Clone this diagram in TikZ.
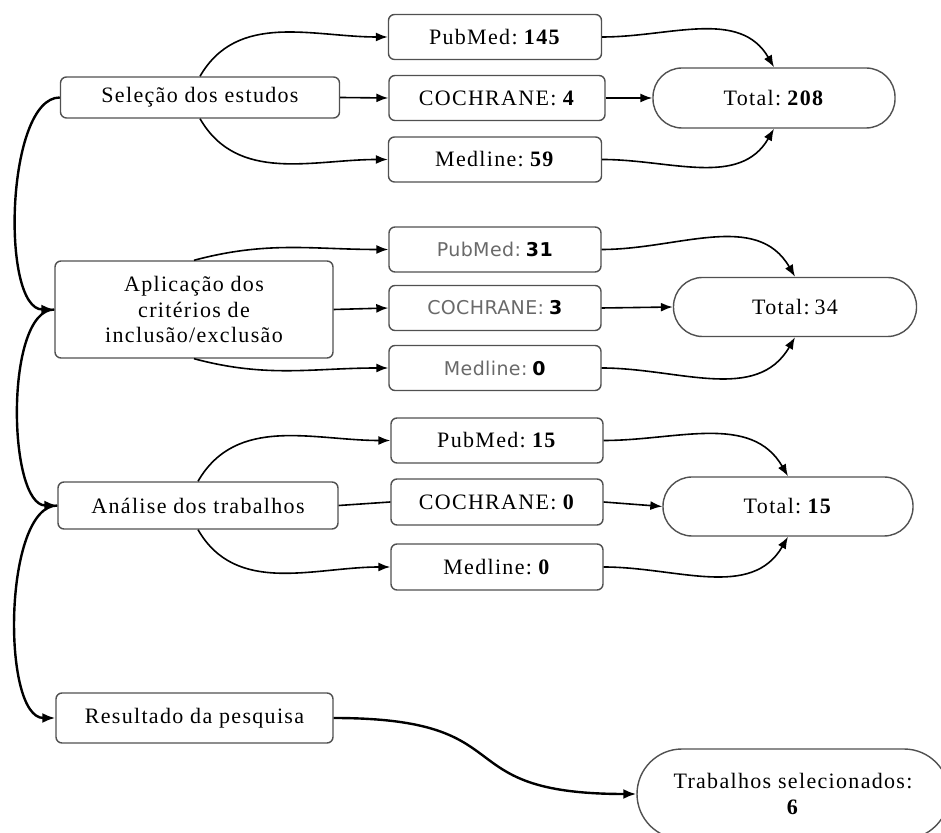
\documentclass[tikz,border=0pt]{standalone}
\usepackage{fontspec}
\setmainfont{Liberation Serif}[LetterSpace=6]
\newfontfamily\grupofont{DejaVu Sans}[LetterSpace=2]
\usepackage{tikz}
\usetikzlibrary{arrows.meta}
\usepackage{xcolor}
\definecolor{boxgrey}{RGB}{80,80,80}
\definecolor{textgrey}{RGB}{105,105,105}
\newcommand{\esp}{\hspace{5pt}}

\begin{document}
\begin{tikzpicture}[x=1pt, y=1pt, font=\fontsize{22}{25.5}\selectfont,
    etapa/.style={draw=boxgrey, line width=1.4pt, rounded corners=6pt,
      inner sep=0pt, align=center},
    base/.style={etapa, minimum width=213pt, minimum height=45pt},
    total/.style={draw=boxgrey, line width=1.4pt, rounded corners=29pt,
      inner sep=0pt, minimum height=59pt, align=center},
    seta/.style={line width=1.6pt, -{Latex[length=12pt,width=9pt]}},
    fluxo/.style={line width=2.4pt, -{Latex[length=13pt,width=10pt]}}]
        \clip (0,0) rectangle (941,832);

        % Seleção dos estudos
        \node[etapa, minimum width=279pt, minimum height=41pt] (sel) at (200,734.5) {Seleção dos estudos};
        \node[base] (pub1) at (495,795) {PubMed:\esp\textbf{145}};
        \node[base, minimum width=216pt] (coc1) at (497,734) {COCHRANE:\esp\textbf{4}};
        \node[base] (med1) at (495,672.5) {Medline:\esp\textbf{59}};
        \node[total, minimum width=242pt, minimum height=60pt] (tot1) at (774,734) {Total:\esp\textbf{208}};

        % Critérios de inclusão/exclusão
        \node[etapa, minimum width=278pt, minimum height=97pt] (apl) at (194,522.5)
          {Aplicação dos\\ critérios de\\ inclusão/exclusão};
        \node[base, minimum width=212pt, font=\fontsize{19}{23}\grupofont\color{textgrey}] (pub2) at (495,582.5)
          {PubMed:\esp\textcolor{black}{\textbf{31}}};
        \node[base, minimum width=212pt, font=\fontsize{19}{23}\grupofont\color{textgrey}] (coc2) at (495,524)
          {COCHRANE:\esp\textcolor{black}{\textbf{3}}};
        \node[base, minimum width=212pt, font=\fontsize{19}{23}\grupofont\color{textgrey}] (med2) at (495,464)
          {Medline:\esp\textcolor{black}{\textbf{0}}};
        \node[total, minimum width=243pt] (tot2) at (795,525) {Total:\esp 34};

        % Análise dos trabalhos
        \node[etapa, minimum width=280pt, minimum height=47pt] (ana) at (198,326.5) {Análise dos trabalhos};
        \node[base, minimum width=212pt] (pub3) at (497,391.5) {PubMed:\esp\textbf{15}};
        \node[base, minimum width=212pt, minimum height=46pt] (coc3) at (497,330) {COCHRANE:\esp\textbf{0}};
        \node[base, minimum width=212pt, minimum height=46pt] (med3) at (497,265) {Medline:\esp\textbf{0}};
        \node[total, minimum width=250pt] (tot3) at (788,325.5) {Total:\esp\textbf{15}};

        % Resultado
        \node[etapa, minimum width=277pt, minimum height=50pt] (res) at (194.5,114) {Resultado da pesquisa};
        \node[total, rounded corners=45pt, minimum width=312pt, minimum height=90pt] (tra) at (793,38)
          {Trabalhos selecionados:\\ \textbf{6}};

        % ligações
        \draw[seta] (sel.north) to[out=60,in=180] (pub1.west);
        \draw[seta] (sel.east) -- (coc1.west);
        \draw[seta] (sel.south) to[out=-60,in=180] (med1.west);
        \draw[seta] (apl.north) to[out=15,in=180] (pub2.west);
        \draw[seta] (apl.east) -- (coc2.west);
        \draw[seta] (apl.south) to[out=-15,in=180] (med2.west);
        \draw[seta] (ana.north) to[out=60,in=180] (pub3.west);
        \draw[line width=1.6pt] (ana.east) -- (coc3.west);
        \draw[seta] (ana.south) to[out=-60,in=180] (med3.west);
        \foreach \n in {1,2,3}{
          \draw[seta] (pub\n.east) to[out=0,in=120] (tot\n.north);
          \draw[seta] (coc\n.east) -- (tot\n.west);
          \draw[seta] (med\n.east) to[out=0,in=-120] (tot\n.south);
        }
        \draw[fluxo] (sel.west) to[out=180,in=180,looseness=0.65] (apl.west);
        \draw[fluxo] (apl.west) to[out=180,in=180,looseness=0.65] (ana.west);
        \draw[fluxo] (ana.west) to[out=180,in=180,looseness=0.65] (res.west);
        \draw[fluxo] (res.east) to[out=0,in=180,looseness=1.6] (tra.west);
      \end{tikzpicture}
\end{document}
